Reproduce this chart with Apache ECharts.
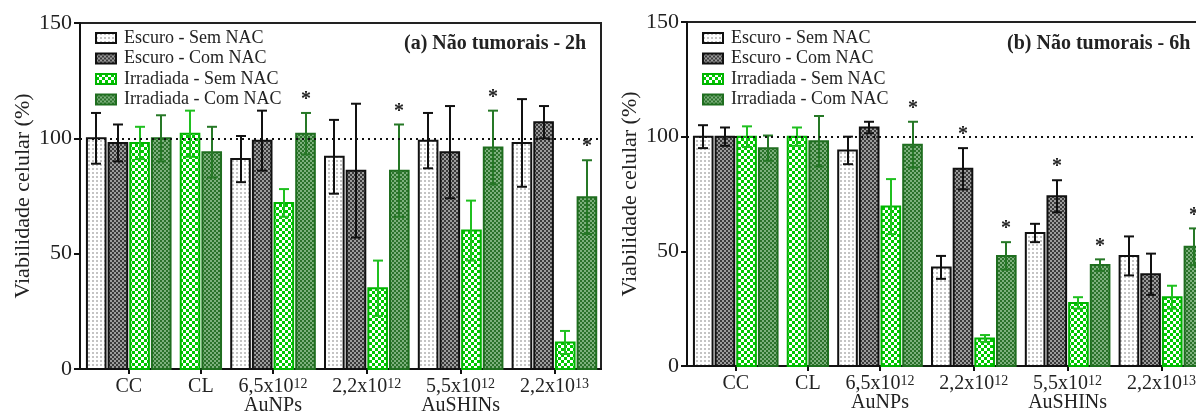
<!DOCTYPE html>
<html>
<head>
<meta charset="utf-8">
<script src="https://cdn.jsdelivr.net/npm/echarts@6/dist/echarts.min.js"></script>
<style>
html,body{margin:0;padding:0;background:#fff;}
#chart{width:1196px;height:416px;}
</style>
</head>
<body>
<div id="chart"></div>
<script>
// ---------------- DATA ----------------
const categories = ['CC', 'CL', '6,5x10^12', '2,2x10^12', '5,5x10^12', '2,2x10^13'];
const subCategories = ['', '', 'AuNPs', '', 'AuSHINs', ''];
const seriesNames = ['Escuro - Sem NAC', 'Escuro - Com NAC', 'Irradiada - Sem NAC', 'Irradiada - Com NAC'];
const yTicks = [0, 50, 100, 150];
const referenceLine = 100;
const panelTitles = ['(a) Não tumorais - 2h', '(b) Não tumorais - 6h'];
const yAxisName = 'Viabilidade celular (%)';

// Panel (a) - 2h
const escSemA    = [100, null, 91, 92, 99, 98];
const escSemAErr = [11, null, 10, 16, 12, 19];
const escComA    = [98, null, 99, 86, 94, 107];
const escComAErr = [8, null, 13, 29, 20, 7];
const irrSemA    = [98, 102, 72, 35, 60, 11.5];
const irrSemAErr = [7, 10, 6, 12, 13, 5];
const irrComA    = [100, 94, 102, 86, 96, 74.5];
const irrComAErr = [10, 11, 9, 20, 16, 16];
const sigEscComA = [0, 0, 0, 0, 0, 0];
const sigIrrComA = [0, 0, 1, 1, 1, 1];

// Panel (b) - 6h
const escSemB    = [100, null, 94, 43, 58, 48];
const escSemBErr = [5, null, 6, 5, 4, 8.5];
const escComB    = [100, null, 104, 86, 74, 40];
const escComBErr = [4, null, 2.5, 9, 7, 9];
const irrSemB    = [100, 100, 69.5, 12, 27.5, 30];
const irrSemBErr = [4.5, 4, 12, 1.5, 2.5, 5];
const irrComB    = [95, 98, 96.5, 48, 44, 52];
const irrComBErr = [5.5, 11, 10, 6, 2.5, 8];
const sigEscComB = [0, 0, 0, 1, 1, 0];
const sigIrrComB = [0, 0, 1, 1, 1, 1];

// ---------------- STYLE / LAYOUT ----------------
const FONT = "'Liberation Serif', 'Times New Roman', serif";
const TXT = '#222';
const PAD_L = 0.75, PAD_R = 0.65, GAP = 0.33, BAR_W = 0.86;

function makePattern(w, h, draw) {
  const c = document.createElement('canvas');
  c.width = w; c.height = h;
  const ctx = c.getContext('2d');
  draw(ctx);
  return { image: c, repeat: 'repeat' };
}
const patterns = [
  makePattern(4, 4, ctx => { ctx.fillStyle = '#ffffff'; ctx.fillRect(0,0,4,4); ctx.fillStyle = '#c4c4c4'; ctx.fillRect(0,0,2,2); }),
  makePattern(4, 4, ctx => { ctx.fillStyle = '#9c9c9c'; ctx.fillRect(0,0,4,4); ctx.fillStyle = '#3a3a3a'; ctx.fillRect(0,0,2,2); ctx.fillRect(2,2,2,2); }),
  makePattern(6, 6, ctx => { ctx.fillStyle = '#00c800'; ctx.fillRect(0,0,6,6); ctx.fillStyle = '#ffffff'; ctx.fillRect(0,0,3,3); ctx.fillRect(3,3,3,3); }),
  makePattern(4, 4, ctx => { ctx.fillStyle = '#7db07d'; ctx.fillRect(0,0,4,4); ctx.fillStyle = '#2b722b'; ctx.fillRect(0,0,2,2); ctx.fillRect(2,2,2,2); })
];
const barBorder = ['#111111', '#111111', '#00b400', '#1f6e1f'];
const errColors = ['#111111', '#111111', '#1fc01f', '#267826'];

const panels = [
  { vals: [escSemA, escComA, irrSemA, irrComA], errs: [escSemAErr, escComAErr, irrSemAErr, irrComAErr],
    sigs: [null, sigEscComA, null, sigIrrComA],
    grid: { left: 80, top: 23, width: 521, height: 346 }, legendLeft: 95, titleLeft: 404 },
  { vals: [escSemB, escComB, irrSemB, irrComB], errs: [escSemBErr, escComBErr, irrSemBErr, irrComBErr],
    sigs: [null, sigEscComB, null, sigIrrComB],
    grid: { left: 687, top: 22, width: 521, height: 344 }, legendLeft: 702, titleLeft: 1007 }
];

function layout(vals) {
  const pos = vals.map(() => []);
  const centers = [];
  let x = PAD_L;
  for (let g = 0; g < categories.length; g++) {
    let first = null, last = null;
    for (let s = 0; s < vals.length; s++) {
      if (vals[s][g] != null) {
        pos[s][g] = x;
        if (first == null) first = x;
        last = x;
        x += 1;
      }
    }
    centers.push((first + last) / 2);
    x += GAP;
  }
  const max = x - GAP - 1 + PAD_R;
  return { pos, centers, max };
}

function richLabel(g) {
  const main = categories[g];
  let txt;
  if (main.indexOf('^') >= 0) {
    const [b, e] = main.split('^');
    txt = '{a|' + b + '}{s|' + e + '}';
  } else {
    txt = '{a|' + main + '}';
  }
  if (subCategories[g]) txt += '\n{a|' + subCategories[g] + '}';
  return txt;
}

function renderBar(params, api) {
  const x = api.value(0), v = api.value(1), e = api.value(2), sig = api.value(3), s = api.value(4);
  const base = api.coord([x, 0]);
  const top = api.coord([x, v]);
  const w = api.size([BAR_W, 0])[0];
  const yT = api.coord([x, v + e])[1];
  const yB = api.coord([x, Math.max(v - e, 0)])[1];
  const cx = Math.round(base[0]);
  const cap = 5;
  const children = [
    { type: 'rect', shape: { x: base[0] - w / 2, y: top[1], width: w, height: base[1] - top[1] },
      style: { fill: patterns[s], stroke: barBorder[s], lineWidth: 2 } },
    { type: 'line', shape: { x1: cx, y1: yT, x2: cx, y2: yB }, style: { stroke: errColors[s], lineWidth: 2 } },
    { type: 'line', shape: { x1: cx - cap, y1: yT, x2: cx + cap, y2: yT }, style: { stroke: errColors[s], lineWidth: 2 } },
    { type: 'line', shape: { x1: cx - cap, y1: yB, x2: cx + cap, y2: yB }, style: { stroke: errColors[s], lineWidth: 2 } }
  ];
  if (sig) {
    children.push({ type: 'text', style: { text: '*', x: cx, y: yT - 13, align: 'center', verticalAlign: 'middle',
      textAlign: 'center', textVerticalAlign: 'middle', font: 'bold 20px ' + FONT, fill: TXT } });
  }
  return { type: 'group', children };
}

const grids = [], xAxes = [], yAxes = [], series = [], legends = [], titles = [];
panels.forEach((p, pi) => {
  const L = layout(p.vals);
  grids.push(Object.assign({ show: true, borderColor: '#222', borderWidth: 2, backgroundColor: 'transparent',
    containLabel: false, outerBoundsMode: 'none' }, p.grid));
  xAxes.push({
    type: 'value', gridIndex: pi, min: 0, max: L.max,
    axisLine: { show: true, lineStyle: { color: '#111', width: 2 } },
    axisTick: { show: true, customValues: L.centers, length: 5, lineStyle: { color: '#111', width: 2 } },
    axisLabel: { show: true, customValues: L.centers, margin: 8,
      formatter: (val) => { const i = L.centers.findIndex(c => Math.abs(c - val) < 1e-6); return i >= 0 ? richLabel(i) : ''; },
      rich: { a: { fontSize: 20, fontFamily: FONT, color: TXT, lineHeight: 19 },
              s: { fontSize: 14, fontFamily: FONT, color: TXT, lineHeight: 19, verticalAlign: 'top' } } },
    splitLine: { show: false }
  });
  yAxes.push({
    type: 'value', gridIndex: pi, min: yTicks[0], max: yTicks[yTicks.length - 1], interval: yTicks[1] - yTicks[0],
    name: yAxisName, nameLocation: 'middle', nameGap: 46,
    nameTextStyle: { fontSize: 22, fontFamily: FONT, color: TXT },
    axisLine: { show: true, lineStyle: { color: '#111', width: 2 } },
    axisTick: { show: true, inside: false, length: 6, lineStyle: { color: '#111', width: 2 } },
    axisLabel: { fontSize: 22, fontFamily: FONT, color: TXT, margin: 8 },
    splitLine: { show: false }
  });
  seriesNames.forEach((name, s) => {
    const data = [];
    p.vals[s].forEach((v, g) => {
      if (v == null) return;
      const sigArr = p.sigs[s];
      data.push([L.pos[s][g], v, p.errs[s][g], sigArr ? sigArr[g] : 0, s]);
    });
    const ser = {
      type: 'custom', name, xAxisIndex: pi, yAxisIndex: pi, renderItem: renderBar, data,
      itemStyle: { color: patterns[s], borderColor: barBorder[s], borderWidth: 2 },
      encode: { x: 0, y: 1 }, clip: false, silent: true
    };
    if (s === 0) {
      ser.markLine = { silent: true, symbol: ['none', 'none'], animation: false,
        label: { show: false }, lineStyle: { type: [2, 4], color: '#111', width: 2 },
        data: [{ yAxis: referenceLine }] };
    }
    series.push(ser);
  });
  legends.push({
    left: p.legendLeft, top: 28, orient: 'vertical', itemWidth: 20, itemHeight: 10, itemGap: 0.5, padding: 0,
    selectedMode: false,
    textStyle: { fontSize: 18, fontFamily: FONT, color: TXT, lineHeight: 20, padding: [0, 0, 0, 3] },
    data: seriesNames.map((n, s) => ({ name: n, icon: 'rect',
      itemStyle: { color: patterns[s], borderColor: barBorder[s], borderWidth: 2 } }))
  });
  titles.push({ text: panelTitles[pi], left: p.titleLeft, top: 34, padding: 0,
    textStyle: { fontSize: 20, fontWeight: 'bold', fontFamily: FONT, color: TXT } });
});

const chart = echarts.init(document.getElementById('chart'), null, { renderer: 'canvas' });
chart.setOption({
  animation: false,
  backgroundColor: '#fff',
  title: titles,
  legend: legends,
  grid: grids,
  xAxis: xAxes,
  yAxis: yAxes,
  series: series
});
</script>
</body>
</html>
